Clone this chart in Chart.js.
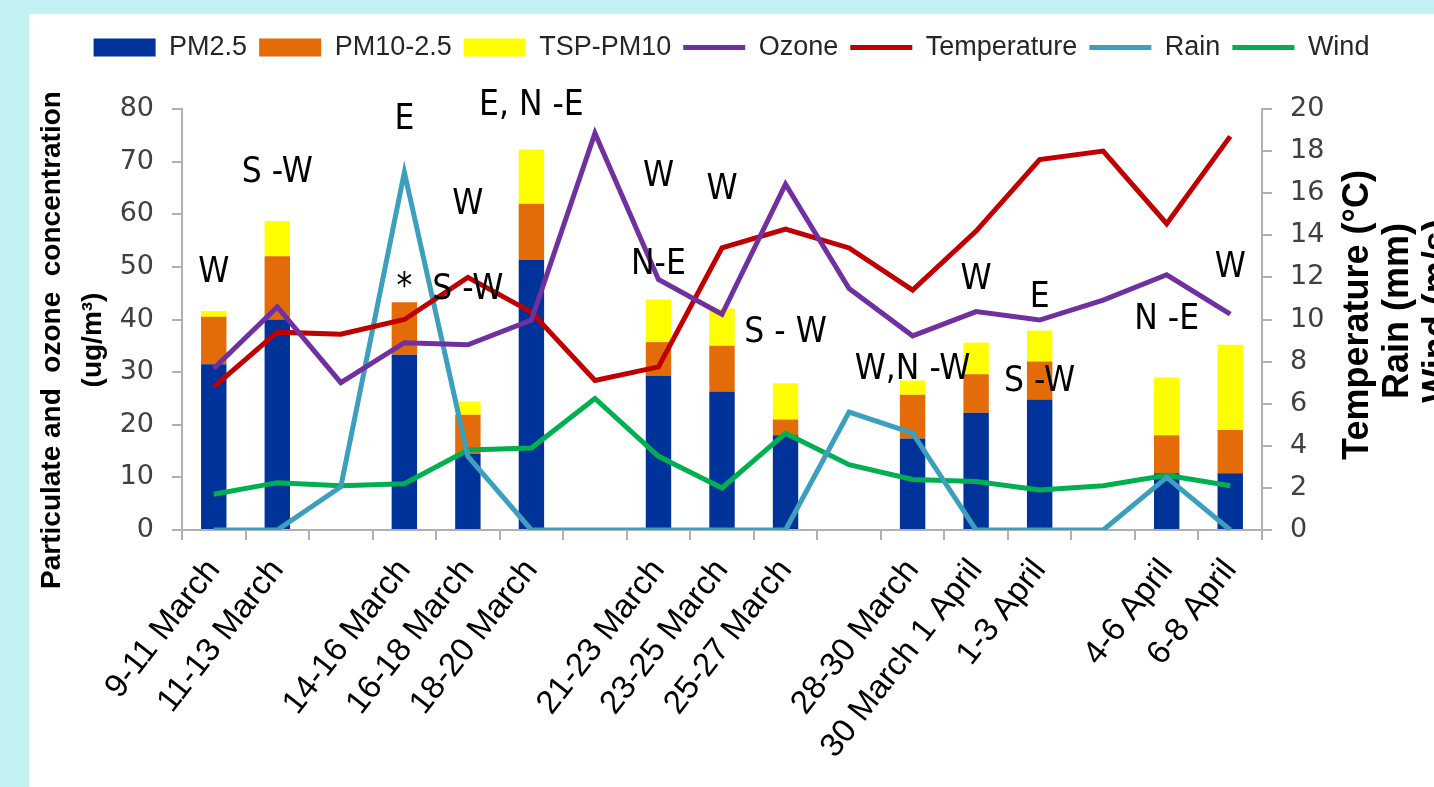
<!DOCTYPE html>
<html>
<head>
<meta charset="utf-8">
<script src="https://cdn.jsdelivr.net/npm/chart.js@4.4.1/dist/chart.umd.min.js"></script>
<style>
  html, body { margin: 0; padding: 0; background: #c3f1f1; overflow: hidden; }
  #panel { position: absolute; left: 29px; top: 14px; width: 1405px; height: 773px; background: #fff; }
</style>
</head>
<body>
<div id="panel"><canvas id="myChart" width="1405" height="773"></canvas></div>
<script>
const periods = ['9-11 March', '11-13 March', '', '14-16 March', '16-18 March', '18-20 March', '',
  '21-23 March', '23-25 March', '25-27 March', '', '28-30 March', '30 March 1 April', '1-3 April', '',
  '4-6 April', '6-8 April'];

// particulate fractions (ug/m3), stacked
const pm25    = [31.5, 40, null, 33.3, 14.5, 51.3, null, 29.3, 26.3, 18, null, 17.4, 22.3, 24.8, null, 10.8, 10.8];
const pm10_25 = [9, 12, null, 10, 7.4, 10.7, null, 6.4, 8.7, 3, null, 8.3, 7.3, 7.2, null, 7.2, 8.2];
const tspPm10 = [1.1, 6.7, null, 0, 2.5, 10.3, null, 8.1, 7.1, 6.9, null, 2.7, 6, 5.9, null, 11, 16.2];

// ozone on left axis, the rest on right axis
const ozone       = [30.7, 42.4, 28, 35.6, 35.2, 39.9, 75.4, 47.6, 41, 65.7, 45.9, 36.9, 41.5, 39.9, 43.7, 48.5, 41];
const temperature = [6.8, 9.4, 9.3, 10, 12, 10.35, 7.1, 7.75, 13.4, 14.3, 13.4, 11.4, 14.2, 17.6, 18, 14.55, 18.7];
const rain        = [0, 0, 2.05, 17, 3.5, 0, 0, 0, 0, 0, 5.6, 4.6, 0, 0, 0, 2.5, 0];
const wind        = [1.7, 2.25, 2.1, 2.2, 3.8, 3.9, 6.25, 3.5, 2, 4.6, 3.1, 2.4, 2.3, 1.9, 2.1, 2.6, 2.1];

// wind direction notes: category index, left-axis value, text
const annoIndex = [0, 1, 3, 3, 4, 4, 5, 7, 7, 8, 9, 11, 12, 13, 13, 15, 16];
const annoValue = [48.8, 67.8, 77.9, 46, 61.8, 45.6, 80.6, 67.1, 50.4, 64.6, 37.4, 30.4, 47.5, 44.1, 28.1, 39.9, 49.8];
const annoText  = ['W', 'S -W', 'E', '*', 'W', 'S -W', 'E, N -E', 'W', 'N-E', 'W', 'S - W', 'W,N -W', 'W', 'E', 'S -W', 'N -E', 'W'];

const leftTicks = { min: 0, max: 80, step: 10 };
const rightTicks = { min: 0, max: 20, step: 2 };

const bar = (label, data, color) => ({
  type: 'bar', label, data, backgroundColor: color, borderWidth: 0,
  barPercentage: 0.4, categoryPercentage: 1, yAxisID: 'y', order: 2, pointStyle: 'rect'
});
const line = (label, data, color, axis) => ({
  type: 'line', label, data, borderColor: color, backgroundColor: color, borderWidth: 5,
  pointRadius: 0, pointStyle: 'line', tension: 0, yAxisID: axis, order: 1
});

const extras = {
  id: 'extras',
  beforeLayout(chart) {
    const lg = chart.legend;
    if (lg && !lg._fixed) {
      const fit = lg.fit;
      lg.fit = function () { fit.call(this); this.height = 87; };
      lg._fixed = true;
    }
  },
  afterDatasetsDraw(chart) {
    const { ctx, scales: { x, y } } = chart;
    ctx.save();
    ctx.fillStyle = '#000';
    ctx.font = '35px "Liberation Sans Narrow", "DejaVu Sans Condensed", sans-serif';
    ctx.textAlign = 'center';
    ctx.textBaseline = 'middle';
    annoText.forEach((t, i) => {
      ctx.fillText(t, x.getPixelForValue(annoIndex[i]), y.getPixelForValue(annoValue[i]));
    });
    ctx.restore();
  },
  afterDraw(chart) {
    const { ctx, chartArea: a } = chart;
    const vtext = (t, cx, cy, font) => {
      ctx.save();
      ctx.translate(cx, cy);
      ctx.rotate(-Math.PI / 2);
      ctx.font = font;
      ctx.fillStyle = '#000';
      ctx.textAlign = 'center';
      ctx.textBaseline = 'middle';
      ctx.fillText(t, 0, 0);
      ctx.restore();
    };
    const lf = 'bold 28px "Liberation Sans", sans-serif';
    vtext('Particulate and  ozone  concentration', a.left - 130, 326, lf);
    vtext('(ug/m\u00b3)', a.left - 89, 326, lf);
    const rf = 'bold 36px "Liberation Sans", sans-serif';
    vtext('Temperature (\u00b0C)', a.right + 96, 301, rf);
    vtext('Rain (mm)', a.right + 136, 297, rf);
    vtext('Wind (m/s)', a.right + 176, 297, rf);
  }
};

const axisGrid = { drawOnChartArea: false, color: '#b0b0b0', lineWidth: 2, tickLength: 10 };
const axisBorder = { color: '#b0b0b0', width: 2 };

new Chart(document.getElementById('myChart'), {
  data: {
    labels: periods,
    datasets: [
      bar('PM2.5', pm25, '#003399'),
      bar('PM10-2.5', pm10_25, '#e36c09'),
      bar('TSP-PM10', tspPm10, '#ffff00'),
      line('Ozone', ozone, '#7030a0', 'y'),
      line('Temperature', temperature, '#c00000', 'y1'),
      line('Rain', rain, '#3b9fbd', 'y1'),
      line('Wind', wind, '#00b050', 'y1')
    ]
  },
  options: {
    responsive: false,
    animation: false,
    layout: { padding: { top: 8, left: 0, right: 0, bottom: 0 } },
    plugins: {
      tooltip: { enabled: false },
      legend: {
        position: 'top',
        labels: {
          usePointStyle: true,
          pointStyleWidth: 62,
          boxHeight: 18,
          padding: 12,
          color: '#262626',
          font: { family: '"Liberation Sans", sans-serif', size: 27 },
          sort: (a, b) => a.datasetIndex - b.datasetIndex
        }
      }
    },
    scales: {
      x: {
        stacked: true,
        offset: true,
        grid: { ...axisGrid, offset: true },
        border: axisBorder,
        ticks: {
          autoSkip: false, minRotation: 52, maxRotation: 52, padding: 12,
          color: '#000', font: { family: '"Liberation Sans", sans-serif', size: 33 }
        },
        afterFit: s => { s.height = 257; }
      },
      y: {
        position: 'left',
        stacked: true,
        min: leftTicks.min, max: leftTicks.max,
        grid: axisGrid,
        border: axisBorder,
        ticks: { stepSize: leftTicks.step, padding: 18, color: '#404040', font: { family: '"DejaVu Sans", sans-serif', size: 27 } },
        afterFit: s => { s.width = 153; }
      },
      y1: {
        position: 'right',
        stacked: false,
        min: rightTicks.min, max: rightTicks.max,
        grid: axisGrid,
        border: axisBorder,
        ticks: { stepSize: rightTicks.step, padding: 18, color: '#404040', font: { family: '"DejaVu Sans", sans-serif', size: 27 } },
        afterFit: s => { s.width = 172; }
      }
    }
  },
  plugins: [extras]
});
</script>
</body>
</html>
